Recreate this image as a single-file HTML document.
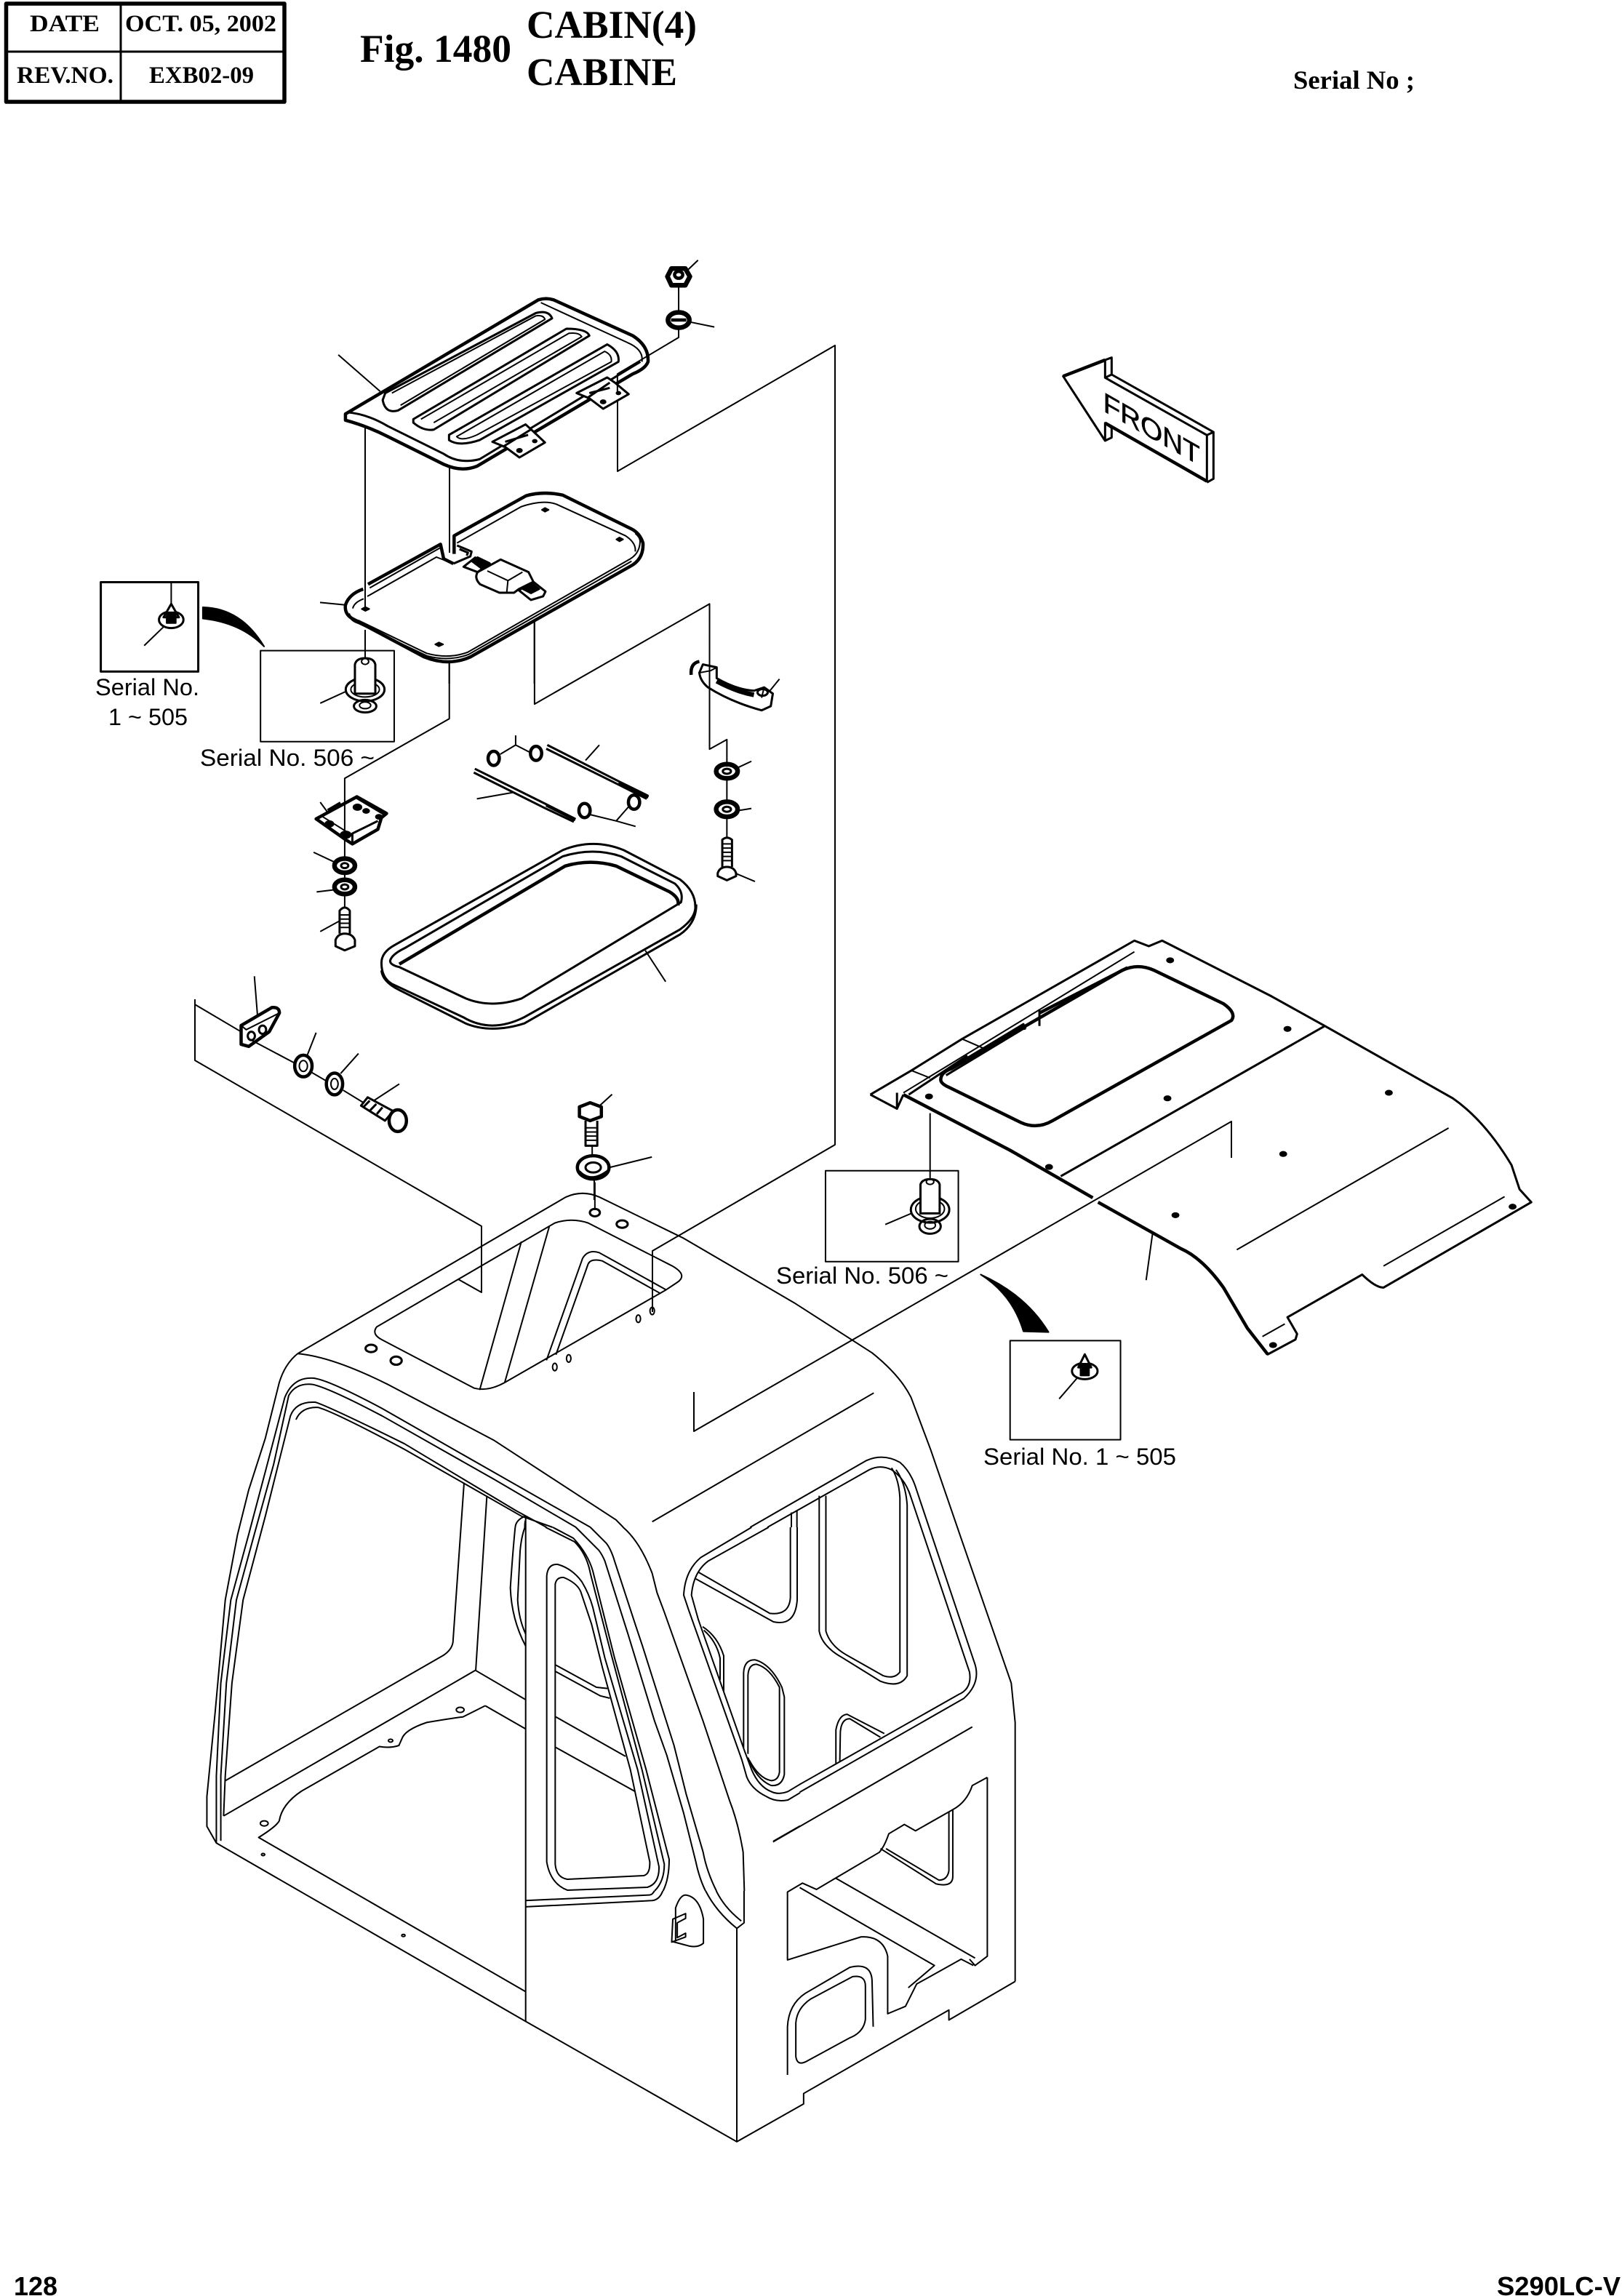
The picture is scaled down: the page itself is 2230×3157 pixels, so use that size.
<!DOCTYPE html>
<html><head><meta charset="utf-8"><title>Fig. 1480 CABIN(4)</title>
<style>
html,body{margin:0;padding:0;background:#fff}
svg{display:block}
path,ellipse,rect,line,circle,polygon{vector-effect:non-scaling-stroke;fill:none;stroke:#000;stroke-width:2;stroke-linejoin:round}
.m,.m *{stroke-width:3}
.k,.k *{stroke-width:4.5}
.n,.n *{stroke-width:6.5}
.f,.f *{fill:#000}
.w,.w *{fill:#fff}
.h{font-family:"Liberation Serif",serif;font-weight:bold;fill:#000}
.s{font-family:"Liberation Sans",sans-serif;font-size:32px;fill:#000}
.b{font-family:"Liberation Sans",sans-serif;font-weight:bold;font-size:36px;fill:#000}
</style></head><body>
<svg xmlns="http://www.w3.org/2000/svg" width="2230" height="3157" viewBox="0 0 2230 3157">
<rect width="2230" height="3157" style="fill:#fff;stroke:none"/>

<!-- header -->
<rect x="8.5" y="5" width="382.500" height="135" style="stroke-width:5.500"/>
<path d="M166 5V140M8 71H391" style="stroke-width:3"/>
<text class="h" x="41" y="43" font-size="33" textLength="96" lengthAdjust="spacingAndGlyphs">DATE</text>
<text class="h" x="172" y="43" font-size="33" textLength="208" lengthAdjust="spacingAndGlyphs">OCT. 05, 2002</text>
<text class="h" x="23" y="114" font-size="33" textLength="133" lengthAdjust="spacingAndGlyphs">REV.NO.</text>
<text class="h" x="205" y="114" font-size="33" textLength="144" lengthAdjust="spacingAndGlyphs">EXB02-09</text>
<text class="h" x="495" y="85" font-size="54" textLength="208" lengthAdjust="spacingAndGlyphs">Fig. 1480</text>
<text class="h" x="724" y="52" font-size="54" textLength="234" lengthAdjust="spacingAndGlyphs">CABIN(4)</text>
<text class="h" x="724" y="117" font-size="54" textLength="207" lengthAdjust="spacingAndGlyphs">CABINE</text>
<text class="h" x="1778" y="122" font-size="36" textLength="167" lengthAdjust="spacingAndGlyphs">Serial No ;</text>
<text class="b" x="19" y="3156" textLength="60" lengthAdjust="spacingAndGlyphs">128</text>
<text class="b" x="2058" y="3156" textLength="170" lengthAdjust="spacingAndGlyphs">S290LC-V</text>

<!-- serial labels -->
<text class="s" x="131" y="956" textLength="143" lengthAdjust="spacingAndGlyphs">Serial No.</text>
<text class="s" x="149" y="997" textLength="109" lengthAdjust="spacingAndGlyphs">1 ~ 505</text>
<text class="s" x="275" y="1053" textLength="240" lengthAdjust="spacingAndGlyphs">Serial No. 506 ~</text>
<text class="s" x="1067" y="1765" textLength="237" lengthAdjust="spacingAndGlyphs">Serial No. 506 ~</text>
<text class="s" x="1352" y="2014" textLength="265" lengthAdjust="spacingAndGlyphs">Serial No. 1 ~ 505</text>

<!-- long connector lines (real px) -->
<path d="M849 550V648L1148 475V1574L897 1720V1804"/>
<path d="M502 588V838M502 866V905"/>
<path d="M618 643V760"/>
<path d="M268 1374V1458L662 1686V1777L630 1759"/>
<path d="M1693 1592V1542L954 1968V1914"/>
<path d="M722.700 2084V2779"/>

<!-- Z1: lid and nuts -->
<g transform="translate(0,0) scale(.70153,.47832)">
<path class="k" d="M677 1190L1055 862Q1070 855 1085 862L1240 965Q1272 995 1270 1040Q1265 1060 1240 1075L935 1340Q905 1358 870 1335L760 1255Q720 1225 677 1208Z"/>
<path class="m" d="M680 1185Q720 1190 760 1225L870 1305Q900 1335 940 1320L1255 1040"/>
<path d="M1060 870L1230 985Q1262 1005 1258 1040"/>
<path class="m" d="M755 1130L1050 900Q1075 890 1082 915L780 1180Q755 1190 750 1150Z"/>
<path d="M768 1130L1050 908Q1065 905 1068 918L785 1165"/>
<path class="m" d="M810 1205L1110 945Q1150 945 1155 965L850 1235Q830 1240 810 1215Z"/>
<path d="M825 1205L1115 958Q1135 955 1140 968L850 1215"/>
<path class="m" d="M880 1250L1190 990Q1215 1010 1212 1040L940 1265Q900 1285 880 1265Z"/>
<path d="M895 1255L1185 1010Q1200 1020 1198 1040L935 1250Q905 1270 895 1255Z"/>
<g class="m w">
<path d="M1130 1130L1190 1085L1205 1100L1232 1133L1182 1175L1155 1145Z"/>
<path d="M965 1270L1030 1220L1045 1240L1068 1272L1018 1315L990 1285Z"/>
</g>
<path class="m" d="M1150 1145L1195 1100M1155 1130L1195 1115M985 1285L1040 1235M990 1270L1035 1250"/>
<g class="f"><ellipse cx="1182" cy="1155" rx="5" ry="5"/><ellipse cx="1212" cy="1130" rx="4" ry="4"/><ellipse cx="1018" cy="1295" rx="5" ry="5"/><ellipse cx="1048" cy="1268" rx="4" ry="4"/></g>
<path class="n" d="M1316 772L1343 772L1352 795L1343 820L1316 820L1308 795Z"/>
<ellipse class="n" cx="1330" cy="920" rx="21" ry="22"/>
<ellipse class="k" cx="1330" cy="790" rx="8" ry="10"/><path class="k" d="M1315 920H1345"/>
<path d="M1345 780L1368 748M1350 925L1400 940M1330 825V895M1330 945V970L1210 1075V1135M663 1020L745 1125"/>
</g>

<!-- Z7: hatch -->
<g transform="translate(440,640) scale(.33333)">
<path class="k" d="M178 510Q120 530 105 575Q100 610 130 630L430 790Q530 830 620 790L1290 410Q1335 380 1332 320Q1320 280 1285 262L1000 122Q920 105 850 125L553 290V365M550 405L510 385L497 325L198 490"/>
<path d="M195 540L480 378L550 405M565 320L830 170Q920 140 975 160L1260 290Q1305 320 1300 355M135 590Q140 565 180 550M205 505L495 340"/>
<path d="M120 610Q125 630 160 640L440 775Q530 800 610 770L1280 385Q1320 360 1320 310Q1318 295 1300 280M122 620Q125 640 160 652L440 785Q530 810 612 780L1285 395"/>
<path class="m" d="M565 330L625 355L620 375L550 405M575 345L610 360L605 372"/>
<path class="m w" d="M650 440L745 388L860 440L880 480L820 510L800 525L740 525L660 490Q635 465 650 440Z"/>
<path d="M690 435L775 475L835 440M775 475L770 525"/>
<path class="m" d="M592 418L640 380L700 405L650 440Z"/>
<path class="f" d="M625 395L650 378L700 402L665 425Z"/>
<path class="m" d="M820 515L880 480L930 520L920 540L870 555Z"/>
<path class="f" d="M835 510L875 485L905 510L870 528Z"/>
<g class="f"><path d="M915 183L928 175L943 183L928 191Z"/><path d="M1222 305L1235 297L1250 305L1235 313Z"/><path d="M172 592L187 584L203 592L187 600Z"/><path d="M475 738L490 730L508 738L490 746Z"/></g>
<path d="M0 565L100 575M533 815V900M884 640V900"/>
</g>

<!-- Z2: mid parts -->
<g transform="translate(100,750) scale(.70153,.57398)">
<rect x="55" y="88" width="191" height="214" style="stroke-width:3"/>
<path d="M193 88V140"/>
<ellipse class="m" cx="193" cy="178" rx="24" ry="20"/>
<path class="m w" d="M193 140L178 172H208Z"/>
<rect class="f" x="184" y="160" width="18" height="26"/>
<path d="M178 195L140 240"/>
<path class="f" d="M255 148Q330 150 375 242Q330 185 255 175Z"/>
<rect x="368" y="252" width="262" height="218"/>
<path d="M535 350L485 378"/>
<ellipse class="m" cx="573" cy="385" rx="22" ry="15"/>
<ellipse cx="573" cy="383" rx="11" ry="8"/>
<ellipse class="m" cx="573" cy="345" rx="38" ry="28"/>
<ellipse cx="573" cy="345" rx="28" ry="18"/>
<path class="m w" d="M553 355V285Q556 270 573 270Q590 270 593 285V355Z"/>
<ellipse cx="573" cy="278" rx="7" ry="7"/>
<path d="M738 280V415L533 558V700"/>
<path d="M905 180V380L1248 140V488L1282 465V530"/>
<!-- bracket -->
<path class="k" d="M477 655L557 602L615 642L605 652L598 680L548 715L535 705Z"/>
<path class="m" d="M548 712V690L598 660"/>
<path d="M490 650L545 692M555 605L610 645"/>
<path class="k" d="M500 635L525 617"/>
<path d="M485 615L500 640"/>
<g class="f"><ellipse cx="503" cy="667" rx="8" ry="7"/><ellipse cx="558" cy="627" rx="8" ry="7"/><ellipse cx="575" cy="636" rx="6" ry="5"/><ellipse cx="600" cy="650" rx="6" ry="5"/><ellipse cx="535" cy="693" rx="10" ry="8"/></g>
<path d="M533 700V750M533 785V800M533 835V870"/>
<g class="n"><ellipse cx="533" cy="767" rx="20" ry="17"/><ellipse cx="533" cy="818" rx="20" ry="17"/></g>
<ellipse class="m" cx="533" cy="767" rx="7" ry="6"/><ellipse class="m" cx="533" cy="818" rx="7" ry="6"/>
<path d="M472 735L512 758M478 830L512 825M485 925L522 900"/>
<path class="m" d="M523 930V875Q533 860 543 875V930"/>
<path d="M525 885H541M525 895H541M525 905H541M525 915H541"/>
<path class="m" d="M515 945Q520 930 533 930Q548 930 553 945V960L533 970L515 960Z"/>
<!-- rods -->
<path class="m" d="M930 478L1070 565L1128 600M928 487L1068 572L1125 607"/>
<path class="m" d="M788 535L928 620L985 655M786 544L925 629L982 662"/>
<path class="k" d="M1070 568L1128 603M928 622L985 657"/>
<path d="M1032 478L1005 515M792 607L862 592"/>
<g class="k"><ellipse cx="825" cy="510" rx="11" ry="17"/><ellipse cx="908" cy="498" rx="11" ry="17"/><ellipse cx="1003" cy="635" rx="11" ry="17"/><ellipse cx="1100" cy="615" rx="11" ry="17"/></g>
<path d="M868 455V478M838 500L868 478L895 495M1015 645L1065 660L1090 625M1065 660L1103 673"/>
<!-- handle -->
<path class="m" d="M1235 285L1262 292V318Q1300 345 1335 348L1355 340L1372 355L1368 385L1350 395Q1290 375 1245 340Q1230 325 1228 305Z"/>
<path class="n" d="M1262 325Q1300 350 1335 358"/>
<path d="M1228 305L1250 300L1262 292M1385 320L1365 350M1355 340L1350 365"/>
<ellipse class="m" cx="1352" cy="352" rx="10" ry="8"/>
<path class="k" d="M1212 310Q1210 282 1228 278"/>
<g class="n"><ellipse cx="1282" cy="541" rx="21" ry="17"/><ellipse cx="1282" cy="632" rx="21" ry="18"/></g>
<ellipse class="m" cx="1282" cy="541" rx="8" ry="6"/><ellipse class="m" cx="1282" cy="632" rx="8" ry="6"/>
<path d="M1330 517L1302 533M1330 630L1305 635M1282 560V612M1282 652V700M1337 805L1298 785"/>
<path class="m" d="M1273 770V705Q1282 695 1292 705V770"/>
<path d="M1275 715H1290M1275 725H1290M1275 735H1290M1275 745H1290M1275 755H1290"/>
<path class="m" d="M1264 785Q1268 770 1282 770Q1296 770 1300 785V792L1282 802L1264 792Z"/>
<!-- seal -->
<path class="m" d="M605 1000Q605 975 630 958L960 730Q1020 700 1080 730L1190 800Q1222 830 1220 870Q1218 895 1190 920L885 1130Q820 1170 765 1130L625 1050Q605 1035 605 1000Z"/>
<path class="m" d="M605 1018Q607 1045 640 1065L770 1145Q820 1170 885 1145L1190 932Q1222 905 1222 860"/>
<path class="m" d="M622 995Q625 980 650 965L960 745Q1020 722 1075 745L1180 810Q1198 830 1192 855L880 1085Q820 1110 770 1085L640 1010Q622 1005 622 995Z"/>
<path class="k" d="M640 1003L965 768Q1015 750 1065 768L1170 830Q1190 845 1186 862"/>
<path d="M1122 970L1162 1045"/>
<!-- clip -->
<path d="M356 1032L362 1125"/>
<path class="k" d="M330 1150L390 1107Q405 1105 405 1120L385 1165L345 1200L330 1195Z"/>
<path d="M330 1150L340 1160L405 1120"/>
<ellipse class="m" cx="350" cy="1175" rx="7" ry="10"/><ellipse class="m" cx="372" cy="1160" rx="7" ry="10"/>
<path d="M240 1100L330 1165M350 1185L435 1240M465 1260L500 1285M530 1305L570 1335"/>
<g class="k"><ellipse cx="452" cy="1247" rx="17" ry="26"/><ellipse cx="513" cy="1290" rx="16" ry="26"/></g>
<ellipse cx="452" cy="1247" rx="8" ry="13"/><ellipse cx="513" cy="1290" rx="7" ry="13"/>
<path d="M477 1167L460 1220M560 1217L525 1265M640 1290L590 1330"/>
<path class="m" d="M578 1322L628 1355L612 1378L565 1342Z"/>
<path class="m" d="M582 1330L570 1345M595 1338L583 1353M607 1346L596 1362"/>
<ellipse class="k" cx="637" cy="1378" rx="17" ry="26"/>
<!-- upper bolt and washer -->
<path class="k" d="M993 1345L1014 1335L1036 1345V1368L1014 1378L993 1368Z"/>
<path class="m" d="M1005 1378V1438H1028V1378"/>
<path d="M1007 1395H1026M1007 1405H1026M1007 1415H1026M1007 1425H1026"/>
<path d="M1018 1440V1465M1057 1315L1030 1345M1135 1465L1052 1490M1022 1520V1568"/>
<ellipse class="k" cx="1020" cy="1490" rx="31" ry="28"/>
<ellipse class="m" cx="1020" cy="1490" rx="15" ry="12"/>
<path class="k" d="M992 1500Q1015 1530 1048 1500"/>
</g>

<!-- Z3: panel -->
<g transform="translate(1000,1250) scale(.73342,.5102)">
<path class="m" d="M268 500L345 435L440 350L763 85L790 100L815 85L1020 235L1120 315L1360 510Q1420 570 1470 690L1485 755L1507 790L1230 1020Q1215 1020 1190 985L1050 1100L1068 1145L1065 1160L1013 1200L975 1130L930 1020Q890 940 850 915L695 790"/>
<path class="k" d="M685 778L530 650L330 500M1013 1200L975 1130L930 1020Q890 940 850 915L695 790"/>
<path class="m" d="M268 500L318 538L330 500M318 495V535"/>
<path class="k" d="M400 460Q400 440 420 430L740 165Q770 145 800 165L930 255Q955 280 945 300L610 570Q580 595 550 575L415 480Q400 470 400 460Z"/>
<path class="k" d="M585 280L750 158"/>
<path class="m" d="M585 270V315M405 440L555 310L558 325M410 448L560 318M340 500L450 395"/>
<path d="M345 435L380 455M440 350L480 375M330 495L763 115"/>
<path class="m" d="M1120 315L625 720"/>
<path d="M1352 590L955 918M1457 775L1230 962M1045 1118L1003 1152M797 875L785 1000"/>
<g class="f"><ellipse cx="830" cy="138" rx="6" ry="6"/><ellipse cx="1050" cy="323" rx="6" ry="6"/><ellipse cx="378" cy="505" rx="6" ry="6"/><ellipse cx="825" cy="510" rx="6" ry="6"/><ellipse cx="603" cy="695" rx="6" ry="6"/><ellipse cx="1240" cy="495" rx="6" ry="6"/><ellipse cx="1042" cy="660" rx="6" ry="6"/><ellipse cx="840" cy="825" rx="6" ry="6"/><ellipse cx="1472" cy="802" rx="6" ry="6"/><ellipse cx="1023" cy="1175" rx="6" ry="6"/></g>
<rect x="184" y="705" width="249" height="245"/>
<path d="M380 550V725M345 820L296 850"/>
<ellipse class="m" cx="380" cy="855" rx="20" ry="20"/>
<ellipse cx="380" cy="852" rx="10" ry="10"/>
<ellipse class="m" cx="380" cy="810" rx="36" ry="35"/>
<ellipse cx="380" cy="808" rx="27" ry="25"/>
<path class="m w" d="M362 820V742Q365 728 380 728Q395 728 398 742V820Z"/>
<ellipse cx="380" cy="735" rx="7" ry="7"/>
<path class="f" d="M475 985Q560 1040 602 1140L555 1138Q535 1040 475 985Z"/>
<rect x="530" y="1163" width="207" height="267"/>
<ellipse class="m" cx="670" cy="1245" rx="24" ry="22"/>
<path class="m w" d="M670 1200L658 1235H682Z"/>
<rect class="f" x="662" y="1225" width="16" height="32"/>
<path d="M655 1265L622 1320"/>
</g>

<!-- Z4: cab upper, left, outline -->
<g transform="translate(250,1600) scale(.76531,.5102)">
<path d="M208 512L690 90Q720 70 750 90L900 200L1100 375L1240 510Q1290 570 1310 630L1345 770L1400 1010L1490 1400L1497 1506V2204"/>
<path d="M208 512Q270 520 370 595L560 745L780 960L793 980"/>
<path d="M208 512Q185 540 175 590L150 740L120 880L100 1000L78 1176L60 1476L45 1706V1786L62 1831L617 2311L997 2636L1117 2534V2506L1378 2281V2308L1497 2204"/>
<path d="M62 1831V1650L70 1400L88 1176L120 1000L150 830L185 630Q200 575 235 578Q260 580 360 660L500 780L734 980"/>
<path d="M70 1825V1650L80 1400L98 1176L130 1000L165 810L192 625Q205 590 235 595Q265 605 360 680L560 850L708 980"/>
<path d="M75 1758L78 1650L90 1400L110 1176L150 950L195 680Q205 640 240 643Q265 655 400 755L600 935L655 980"/>
<path d="M205 690Q215 655 245 657Q275 670 400 770L610 950L666 980"/>
<path d="M507 860L487 1290Q485 1310 470 1325L78 1663M548 895L528 1365L75 1758"/>
<path d="M617 950Q600 960 599 980M617 962Q616 970 616 980"/>
<!-- right window, right of x=1110 plus top edges -->
<path d="M1021 980L1230 800Q1260 780 1290 805Q1310 830 1320 880L1425 1350Q1435 1400 1405 1441L1110 1694"/>
<path d="M1052 980L1235 825Q1255 810 1275 825Q1300 850 1310 900L1415 1370Q1420 1415 1395 1431L1110 1673"/>
<path d="M1095 940V980M1105 935V980"/>
<path d="M1145 895V1260Q1150 1300 1185 1330L1255 1395Q1290 1415 1303 1380V920Q1300 860 1283 825M1157 895V1260Q1165 1300 1195 1325L1260 1380Q1280 1390 1290 1370V900Q1288 850 1275 820"/>
<path d="M1243 618L845 965"/>
<!-- roof opening -->
<path d="M350 440L670 160Q700 145 730 160L880 275Q910 300 890 320L870 340L580 590Q550 615 525 605L360 475Q340 460 350 440Z"/>
<path d="M660 170L580 590M610 210L535 610M720 255Q730 230 750 240L870 340M730 270Q735 255 755 262L860 350M720 255L655 530M730 270L672 515"/>
<g class="m"><ellipse cx="340" cy="498" rx="10" ry="10"/><ellipse cx="385" cy="531" rx="10" ry="11"/><ellipse cx="742" cy="132" rx="9" ry="10"/><ellipse cx="791" cy="163" rx="10" ry="10"/></g>
<g><ellipse cx="820" cy="418" rx="4" ry="10"/><ellipse cx="845" cy="397" rx="4" ry="10"/><ellipse cx="695" cy="525" rx="4" ry="10"/><ellipse cx="670" cy="548" rx="4" ry="10"/></g>
<path d="M742 50V125"/>
</g>

<!-- Z11: door / pillar region -->
<g transform="translate(700,2100) scale(.33333)">
<path d="M155 1380V200Q160 150 200 153Q260 170 300 225Q330 275 345 330L395 540L530 1000L618 1400Q620 1470 570 1485L240 1497Q170 1470 155 1380Z"/>
<path d="M190 1390V235Q195 205 225 207Q280 230 295 265L340 400L385 580L500 1000L580 1380Q582 1430 555 1437L240 1452Q195 1445 190 1390Z"/>
<path d="M150 0L270 60Q320 110 335 190L420 520L548 1000L640 1390Q640 1460 600 1500"/>
<path d="M180 0L265 45Q325 110 345 180L435 540L565 1000L660 1370Q660 1450 635 1500"/>
<path d="M275 0L370 95Q385 115 395 140L490 440L600 800L650 940L720 1180L770 1380Q785 1450 810 1500"/>
<path d="M335 0L400 65Q420 90 435 140L520 400L550 490L680 900L730 1100L800 1340Q815 1420 855 1500"/>
<path d="M470 0Q540 60 590 190L610 270L640 350L800 800L910 1130Q945 1220 965 1340L970 1500"/>
<path d="M1000 0L790 125Q725 180 720 280L740 340L960 960L980 1030Q1000 1080 1060 1110Q1100 1135 1150 1125L1200 1095"/>
<path d="M1070 0L820 140Q760 185 752 280L780 380L970 920L1000 1000Q1030 1070 1080 1090Q1110 1105 1150 1090L1200 1060"/>
<path d="M780 185L1075 355Q1155 365 1160 290V0M765 210L1090 390Q1180 410 1188 300V0"/>
<path d="M798 410Q860 450 885 530V680M803 425Q855 470 870 540V630"/>
<path d="M985 950Q1020 1040 1080 1065Q1125 1070 1135 1020V700L1125 660Q1080 565 1015 547Q970 545 967 600V910"/>
<path d="M990 960Q1030 1035 1080 1045Q1110 1045 1115 1010V660Q1075 580 1020 565Q988 565 985 610V935"/>
<path d="M25 0Q15 100 5 250Q10 380 68 490M65 0Q50 40 45 100L35 300Q40 380 68 440"/>
<path d="M192 568L360 660L405 665M192 595L375 695L415 705M192 782L480 945M192 908L520 1090"/>
<path d="M1090 1295L1200 1232"/>
</g>

<!-- Z5: cab lower -->
<g transform="translate(250,2200) scale(.76531,.5102)">
<path d="M528 190L617 268M545 285L617 347"/>
<path d="M545 285L505 315Q480 320 440 330Q400 350 395 375L390 392Q375 400 355 395L215 515Q180 550 175 595Q170 610 138 640L617 1055"/>
<circle cx="148" cy="602" r="7"/><circle cx="500" cy="296" r="7"/><circle cx="375" cy="379" r="4"/><circle cx="146" cy="686" r="3"/><circle cx="398" cy="904" r="3"/>
<path d="M997 885V1460"/>
<path d="M849 784Q845 795 840 795L617 810M864 784Q858 808 845 810L617 827"/>
<path d="M941 784Q960 840 997 885L1010 870V784M960 784Q975 830 1005 865"/>
<path d="M887 920V830Q895 795 905 795Q930 800 937 860V925Q925 940 905 930L880 920"/>
<path d="M880 922L882 860L905 845V858L890 870V910L905 898V908Z"/>
<path d="M1175 440V350Q1180 310 1195 308L1262 360M1182 435L1183 355Q1185 320 1200 320L1255 370"/>
<path d="M1062 652L1420 342"/>
<path d="M1447 478V960L1425 985L1415 968M1447 478L1420 500Q1410 545 1385 565L1318 622L1298 605L1270 630Q1262 665 1253 680L1140 780L1115 763L1088 787V970L1220 908Q1260 905 1268 960V1115L1300 1095L1320 1035L1400 968L1422 985"/>
<path d="M1110 775L1352 985L1305 1045M1175 750L1425 965M1255 670L1355 765Q1385 775 1385 745V565M1265 670L1360 755Q1375 755 1378 730V570"/>
<path d="M1088 1280V1150Q1090 1090 1120 1060L1200 990Q1240 975 1240 1030L1242 1150"/>
<path d="M1103 1230V1140Q1105 1100 1130 1075L1205 1015Q1228 1010 1228 1040V1130Q1225 1165 1200 1180L1120 1245Q1105 1255 1103 1230Z"/>
</g>

<!-- Z6: FRONT arrow -->
<g transform="translate(1400,450) scale(.33333)">
<path class="m" d="M185 202L358 135V208L778 445V635L358 395V468Z"/>
<path class="k" d="M185 202L358 135M358 395L778 635"/>
<path class="m" d="M358 135L385 125V195L805 432L778 445M805 432V625L778 640M358 208L385 195M385 415V455L358 468M358 395L385 415"/>
</g>
<text transform="matrix(1,.5676,0,1,1516.700,565)" font-family="Liberation Sans,sans-serif" font-size="38" textLength="133" lengthAdjust="spacingAndGlyphs" fill="#000" stroke="#000" stroke-width=".6">FRONT</text>
</svg>
</body></html>
